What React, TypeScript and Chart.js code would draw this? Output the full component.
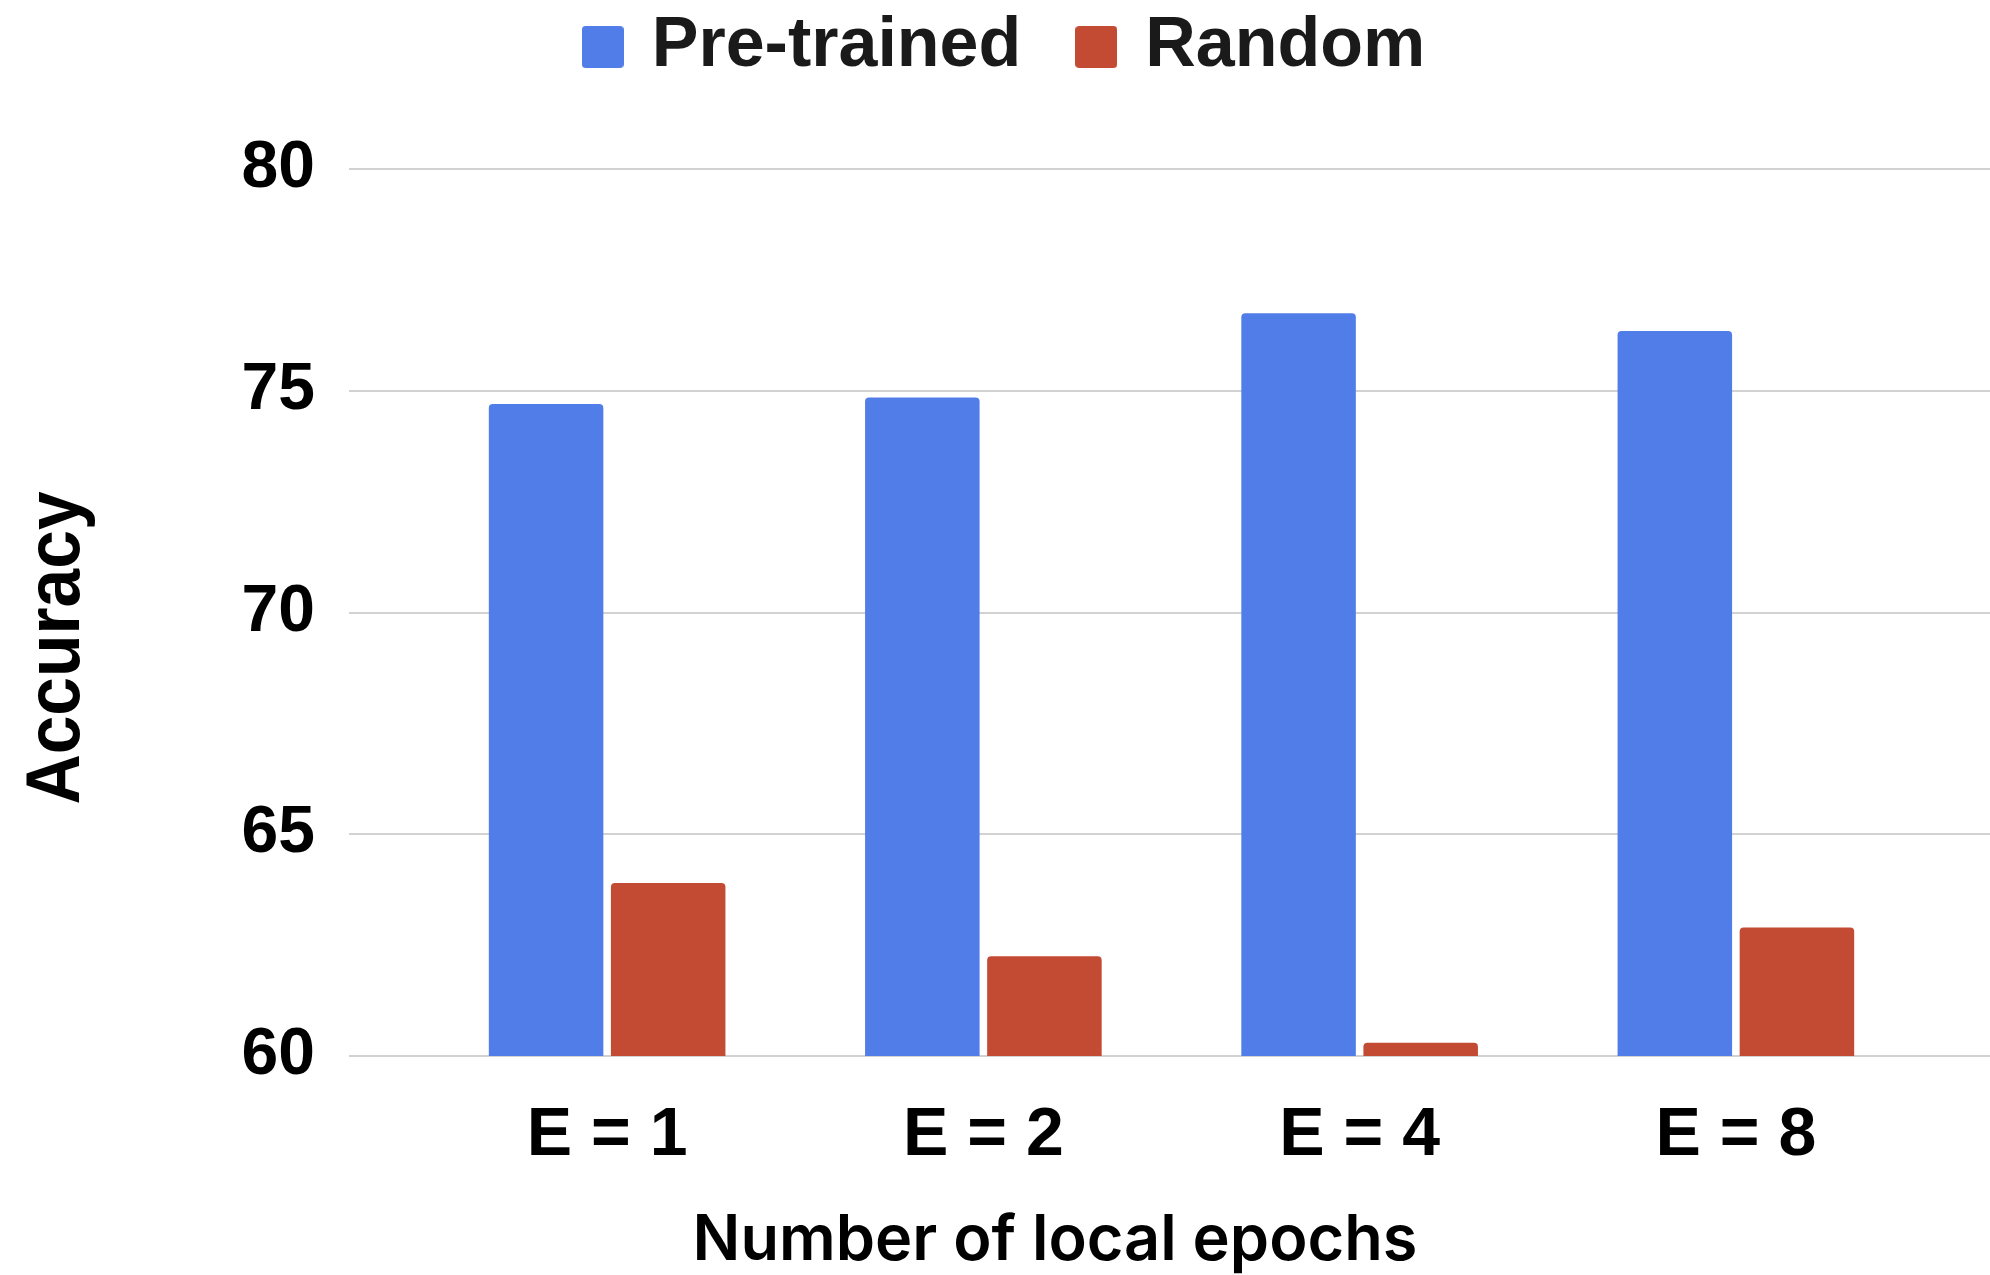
import React, { useEffect, useRef } from "react";
import { Chart, registerables } from "chart.js";

Chart.register(...registerables);

// Data
const categories = ["E = 1", "E = 2", "E = 4", "E = 8"];
const pretrainedAccuracy = [74.7, 74.85, 76.75, 76.35];
const randomAccuracy = [63.9, 62.25, 60.3, 62.9];
const seriesNames = ["Pre-trained", "Random"];
const yMin = 60;
const yMax = 80;
const yStep = 5;
const yAxisTitle = "Accuracy";
const xAxisTitle = "Number of local epochs";

const BLUE = "#517DE9";
const RED = "#C44B33";
const GRID = "#d2d2d2";
const ARIAL = "'Liberation Sans', Arial, sans-serif";

// Small rounded square used as the legend swatch
function makeSwatch(color: string): HTMLCanvasElement {
  const c = document.createElement("canvas");
  c.width = 42;
  c.height = 42;
  const g = c.getContext("2d")!;
  g.fillStyle = color;
  g.beginPath();
  (g as any).roundRect(0, 0, 42, 42, 4);
  g.fill();
  return c;
}

// Draws the two axis titles at fixed spots around the plot
const axisTitlesPlugin = {
  id: "axisTitles",
  afterDraw(chart: any) {
    const { ctx } = chart;
    ctx.save();
    ctx.fillStyle = "#000";
    ctx.translate(58, 648);
    ctx.rotate(-Math.PI / 2);
    ctx.scale(0.915, 1);
    ctx.font = `bold 76px ${ARIAL}`;
    ctx.textAlign = "center";
    ctx.textBaseline = "middle";
    ctx.fillText(yAxisTitle, 0, 0);
    ctx.restore();

    ctx.save();
    ctx.fillStyle = "#000";
    ctx.font = `600 63px Inter, 'Open Sans', sans-serif`;
    ctx.textAlign = "center";
    ctx.textBaseline = "alphabetic";
    ctx.fillText(xAxisTitle, 1055, 1260);
    ctx.restore();
  },
};

export default function App() {
  const canvasRef = useRef<HTMLCanvasElement | null>(null);

  useEffect(() => {
    if (!canvasRef.current) return;
    const chart = new Chart(canvasRef.current, {
      type: "bar",
      data: {
        labels: categories,
        datasets: [
          {
            label: seriesNames[0],
            data: pretrainedAccuracy,
            backgroundColor: BLUE,
            borderWidth: 0,
            borderRadius: 4,
            categoryPercentage: 0.649,
            barPercentage: 0.938,
            pointStyle: makeSwatch(BLUE),
          },
          {
            label: seriesNames[1],
            data: randomAccuracy,
            backgroundColor: RED,
            borderWidth: 0,
            borderRadius: 4,
            categoryPercentage: 0.649,
            barPercentage: 0.938,
            pointStyle: makeSwatch(RED),
          },
        ],
      },
      options: {
        responsive: false,
        animation: false,
        layout: { padding: { left: 24, right: 0, top: -49, bottom: 0 } },
        plugins: {
          tooltip: { enabled: false },
          legend: {
            position: "top",
            align: "center",
            labels: {
              usePointStyle: true,
              pointStyleWidth: 28,
              boxHeight: 42,
              padding: 61,
              color: "#1a1a1a",
              font: { family: ARIAL, size: 70, weight: "bold" },
            },
          },
        },
        scales: {
          x: {
            type: "category",
            grid: { display: false, drawTicks: false },
            border: { display: false },
            ticks: {
              color: "#000",
              padding: 39,
              font: { family: ARIAL, size: 68, weight: "bold" },
            },
            afterFit(scale: any) {
              scale.height = 219;
            },
          },
          xTop: {
            type: "linear",
            position: "top",
            grid: { display: false, drawTicks: false },
            border: { display: false },
            ticks: { display: false },
            afterFit(scale: any) {
              scale.height = 77;
            },
          },
          y: {
            type: "linear",
            min: yMin,
            max: yMax,
            grid: {
              color: GRID,
              tickColor: GRID,
              lineWidth: 2,
              drawTicks: true,
              tickLength: 70,
            },
            border: { display: false },
            ticks: {
              stepSize: yStep,
              color: "#000",
              padding: 34,
              font: { family: ARIAL, size: 66, weight: "bold" },
            },
            afterFit(scale: any) {
              scale.width = 395;
            },
          },
          yRight: {
            type: "linear",
            position: "right",
            min: yMin,
            max: yMax,
            grid: {
              drawOnChartArea: false,
              color: GRID,
              tickColor: GRID,
              lineWidth: 2,
              drawTicks: true,
              tickLength: 66,
            },
            border: { display: false },
            ticks: { stepSize: yStep, display: false },
            afterFit(scale: any) {
              scale.width = 66;
            },
          },
        },
      } as any,
      plugins: [axisTitlesPlugin],
    });
    return () => chart.destroy();
  }, []);

  return (
    <div style={{ position: "absolute", left: 0, top: 0, width: 1990, height: 1275, background: "#fff" }}>
      <canvas ref={canvasRef} width={1990} height={1275} style={{ display: "block" }} />
    </div>
  );
}
